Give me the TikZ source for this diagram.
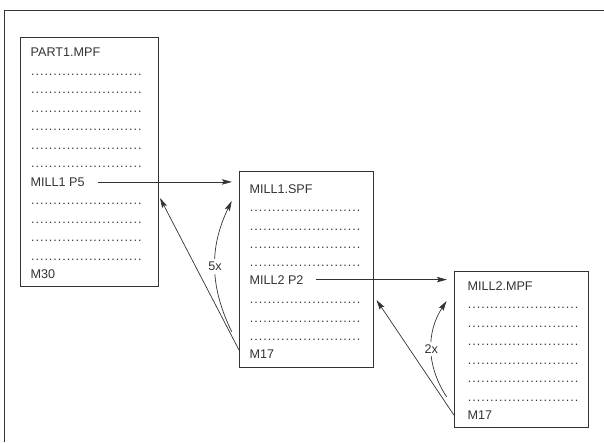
\documentclass[tikz,border=0pt]{standalone}
\usepackage{fontspec}
\setmainfont{Liberation Sans}
\usetikzlibrary{arrows.meta,positioning}
\definecolor{frame}{HTML}{333333}
\newcommand\dotrow{\hbox{\xleaders\hbox to 4.45pt{\hss.\hss}\hskip 111.25pt}}
\tikzset{
  listbox/.style={draw=frame, line width=0.8pt, anchor=north west, inner sep=0pt},
  codeline/.style={anchor=base west, inner sep=0pt, text=black!80,
    font=\fontsize{12.6}{15}\selectfont},
  arr/.style={-{Stealth[length=10pt,width=5.4pt,inset=1.8pt]}, line width=0.7pt, draw=frame},
  countlabel/.style={fill=white, inner sep=3pt, text=black!80,
    font=\fontsize{12.6}{15}\selectfont}
}
\begin{document}
\begin{tikzpicture}[x=1pt,y=-1pt]
  \useasboundingbox (0,0) rectangle (604,442);
  \draw[frame, line width=0.8pt] (4.5,442) -- (4.5,10.3) -- (604,10.3);
  % main program
  \node[listbox, minimum width=138pt, minimum height=249pt] (part) at (20,37) {};
  \node[codeline] (part-t) at (30.5,56.7) {PART1.MPF};
  \foreach \i in {1,...,6,8,9,10,11}
    \node[codeline] (part-\i) at (30.5,56.7+18.5*\i) {\dotrow};
  \node[codeline] (p5) at (30.5,186.2) {MILL1 P5};
  \node[codeline] (m30) at (30.5,278.7) {M30};
  % first subprogram
  \node[listbox, minimum width=134pt, minimum height=196pt] (mill1) at (239,171) {};
  \node[codeline] (mill1-t) at (249.3,193.3) {MILL1.SPF};
  \foreach \i in {1,2,3,4,6,7,8}
    \node[codeline] (mill1-\i) at (249.3,193.3+18.4*\i) {\dotrow};
  \node[codeline] (p2) at (249.3,284) {MILL2 P2};
  \node[codeline] (m17a) at (249.3,358.9) {M17};
  % second subprogram
  \node[listbox, minimum width=134pt, minimum height=156pt] (mill2) at (454,271) {};
  \node[codeline] (mill2-t) at (467.3,290) {MILL2.MPF};
  \foreach \i in {1,...,6}
    \node[codeline] (mill2-\i) at (467.3,290+18.5*\i) {\dotrow};
  \node[codeline] (m17b) at (467.3,419.5) {M17};
  % calls
  \draw[arr, shorten <=13pt, shorten >=7pt] (p5.east) -- (mill1.west |- p5.east);
  \draw[arr, shorten <=12pt, shorten >=7pt] (p2.east) -- (mill2.west |- p2.east);
  % returns
  \coordinate (ret1) at (160,198);
  \coordinate (ret2) at (376.5,300);
  \draw[arr] (mill1.west |- m17a.north) -- (ret1);
  \draw[arr] (mill2.west |- m17b.west) -- (ret2);
  % repetitions
  \coordinate (loop1a) at (231.7,331.7);
  \coordinate (loop1b) at (231.7,201);
  \coordinate (loop2a) at (446.7,397);
  \coordinate (loop2b) at (446.5,301);
  \draw[arr] (loop1a) to[bend left=26] node[countlabel] (n5) {5x} (loop1b);
  \draw[arr] (loop2a) to[bend left=33] node[countlabel] (n2) {2x} (loop2b);
\end{tikzpicture}
\end{document}
